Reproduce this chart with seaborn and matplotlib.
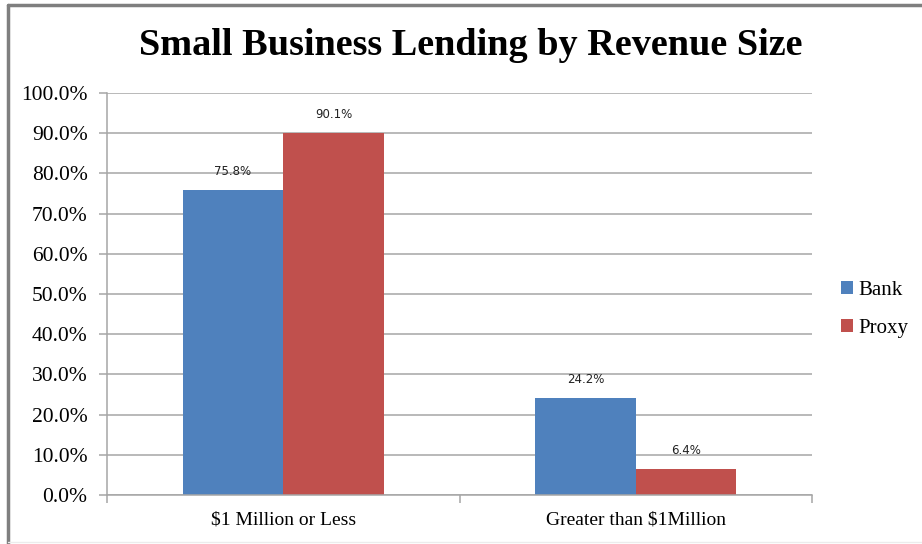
import matplotlib
matplotlib.use("Agg")
import matplotlib.pyplot as plt
from matplotlib.lines import Line2D
from matplotlib.ticker import FixedLocator, PercentFormatter
import seaborn as sns
import pandas as pd

# Share of small business lending by borrower revenue size
categories = ["$1 Million or Less", "Greater than $1Million"]
series = ["Bank", "Proxy"]
bank_values = [75.8, 24.2]
proxy_values = [90.1, 6.4]
y_ticks = [0, 10, 20, 30, 40, 50, 60, 70, 80, 90, 100]

palette = {"Bank": "#4F81BD", "Proxy": "#C0504D"}

df = pd.DataFrame({
    "Category": categories * 2,
    "Series": ["Bank"] * len(categories) + ["Proxy"] * len(categories),
    "Share": bank_values + proxy_values,
})

sns.set_style("white")
plt.rcParams["font.family"] = ["Liberation Serif", "DejaVu Serif"]

fig = plt.figure(figsize=(9.22, 5.44), dpi=100)
ax = fig.add_axes([107 / 922, 49 / 544, 705 / 922, 402 / 544])

sns.barplot(data=df, x="Category", y="Share", hue="Series", order=categories,
            hue_order=series, palette=palette, width=0.57, saturation=1,
            edgecolor="none", linewidth=0, ax=ax, legend=True)

# value labels above each bar
for cont in ax.containers:
    ax.bar_label(cont, fmt="%.1f%%", padding=8.5, fontsize=8.5,
                 family="DejaVu Sans", color="#222222")

ax.set_xlim(-0.5, 1.5)
ax.set_ylim(0, 100)
ax.yaxis.set_major_locator(FixedLocator(y_ticks))
ax.yaxis.set_major_formatter(PercentFormatter(decimals=1))
ax.grid(axis="y", color="#a6a6a6", linewidth=1.1)
ax.set_axisbelow(True)

for side in ["top", "right"]:
    ax.spines[side].set_visible(False)
for side in ["left", "bottom"]:
    ax.spines[side].set_color("#a6a6a6")
    ax.spines[side].set_linewidth(1.1)

ax.tick_params(axis="y", which="major", length=6, width=1.1, color="#a6a6a6",
               labelsize=15.5, pad=8, left=True, labelcolor="black")
ax.tick_params(axis="x", which="major", length=0, labelsize=14, pad=12,
               labelcolor="black")
ax.xaxis.set_minor_locator(FixedLocator([-0.5, 0.5, 1.5]))
ax.tick_params(axis="x", which="minor", length=6, width=1.1, color="#a6a6a6",
               bottom=True)
ax.set_xlabel("")
ax.set_ylabel("")

leg = ax.legend(loc="center left", bbox_to_anchor=(1.03, 0.462), frameon=False,
                fontsize=15, handlelength=0.55, handleheight=0.55,
                handletextpad=0.25, labelspacing=0.9, borderaxespad=0)
for t in leg.get_texts():
    t.set_color("black")

fig.text(0.511, 0.917, "Small Business Lending by Revenue Size", ha="center",
         va="center", fontsize=27.5, fontweight="bold", color="black",
         family=["Liberation Serif", "DejaVu Serif"])

# chart frame
frame = dict(color="#7f7f7f", linewidth=2.5, transform=fig.transFigure)
fig.add_artist(Line2D([7.5 / 922, 7.5 / 922], [1 - 4.5 / 544, 0], **frame))
fig.add_artist(Line2D([7.5 / 922, 1], [1 - 4.5 / 544, 1 - 4.5 / 544], **frame))
fig.add_artist(Line2D([7.5 / 922, 1], [2.5 / 544, 2.5 / 544], color="#ececec",
                      linewidth=1, transform=fig.transFigure))

fig.savefig("out.png", dpi=100, facecolor="white")
